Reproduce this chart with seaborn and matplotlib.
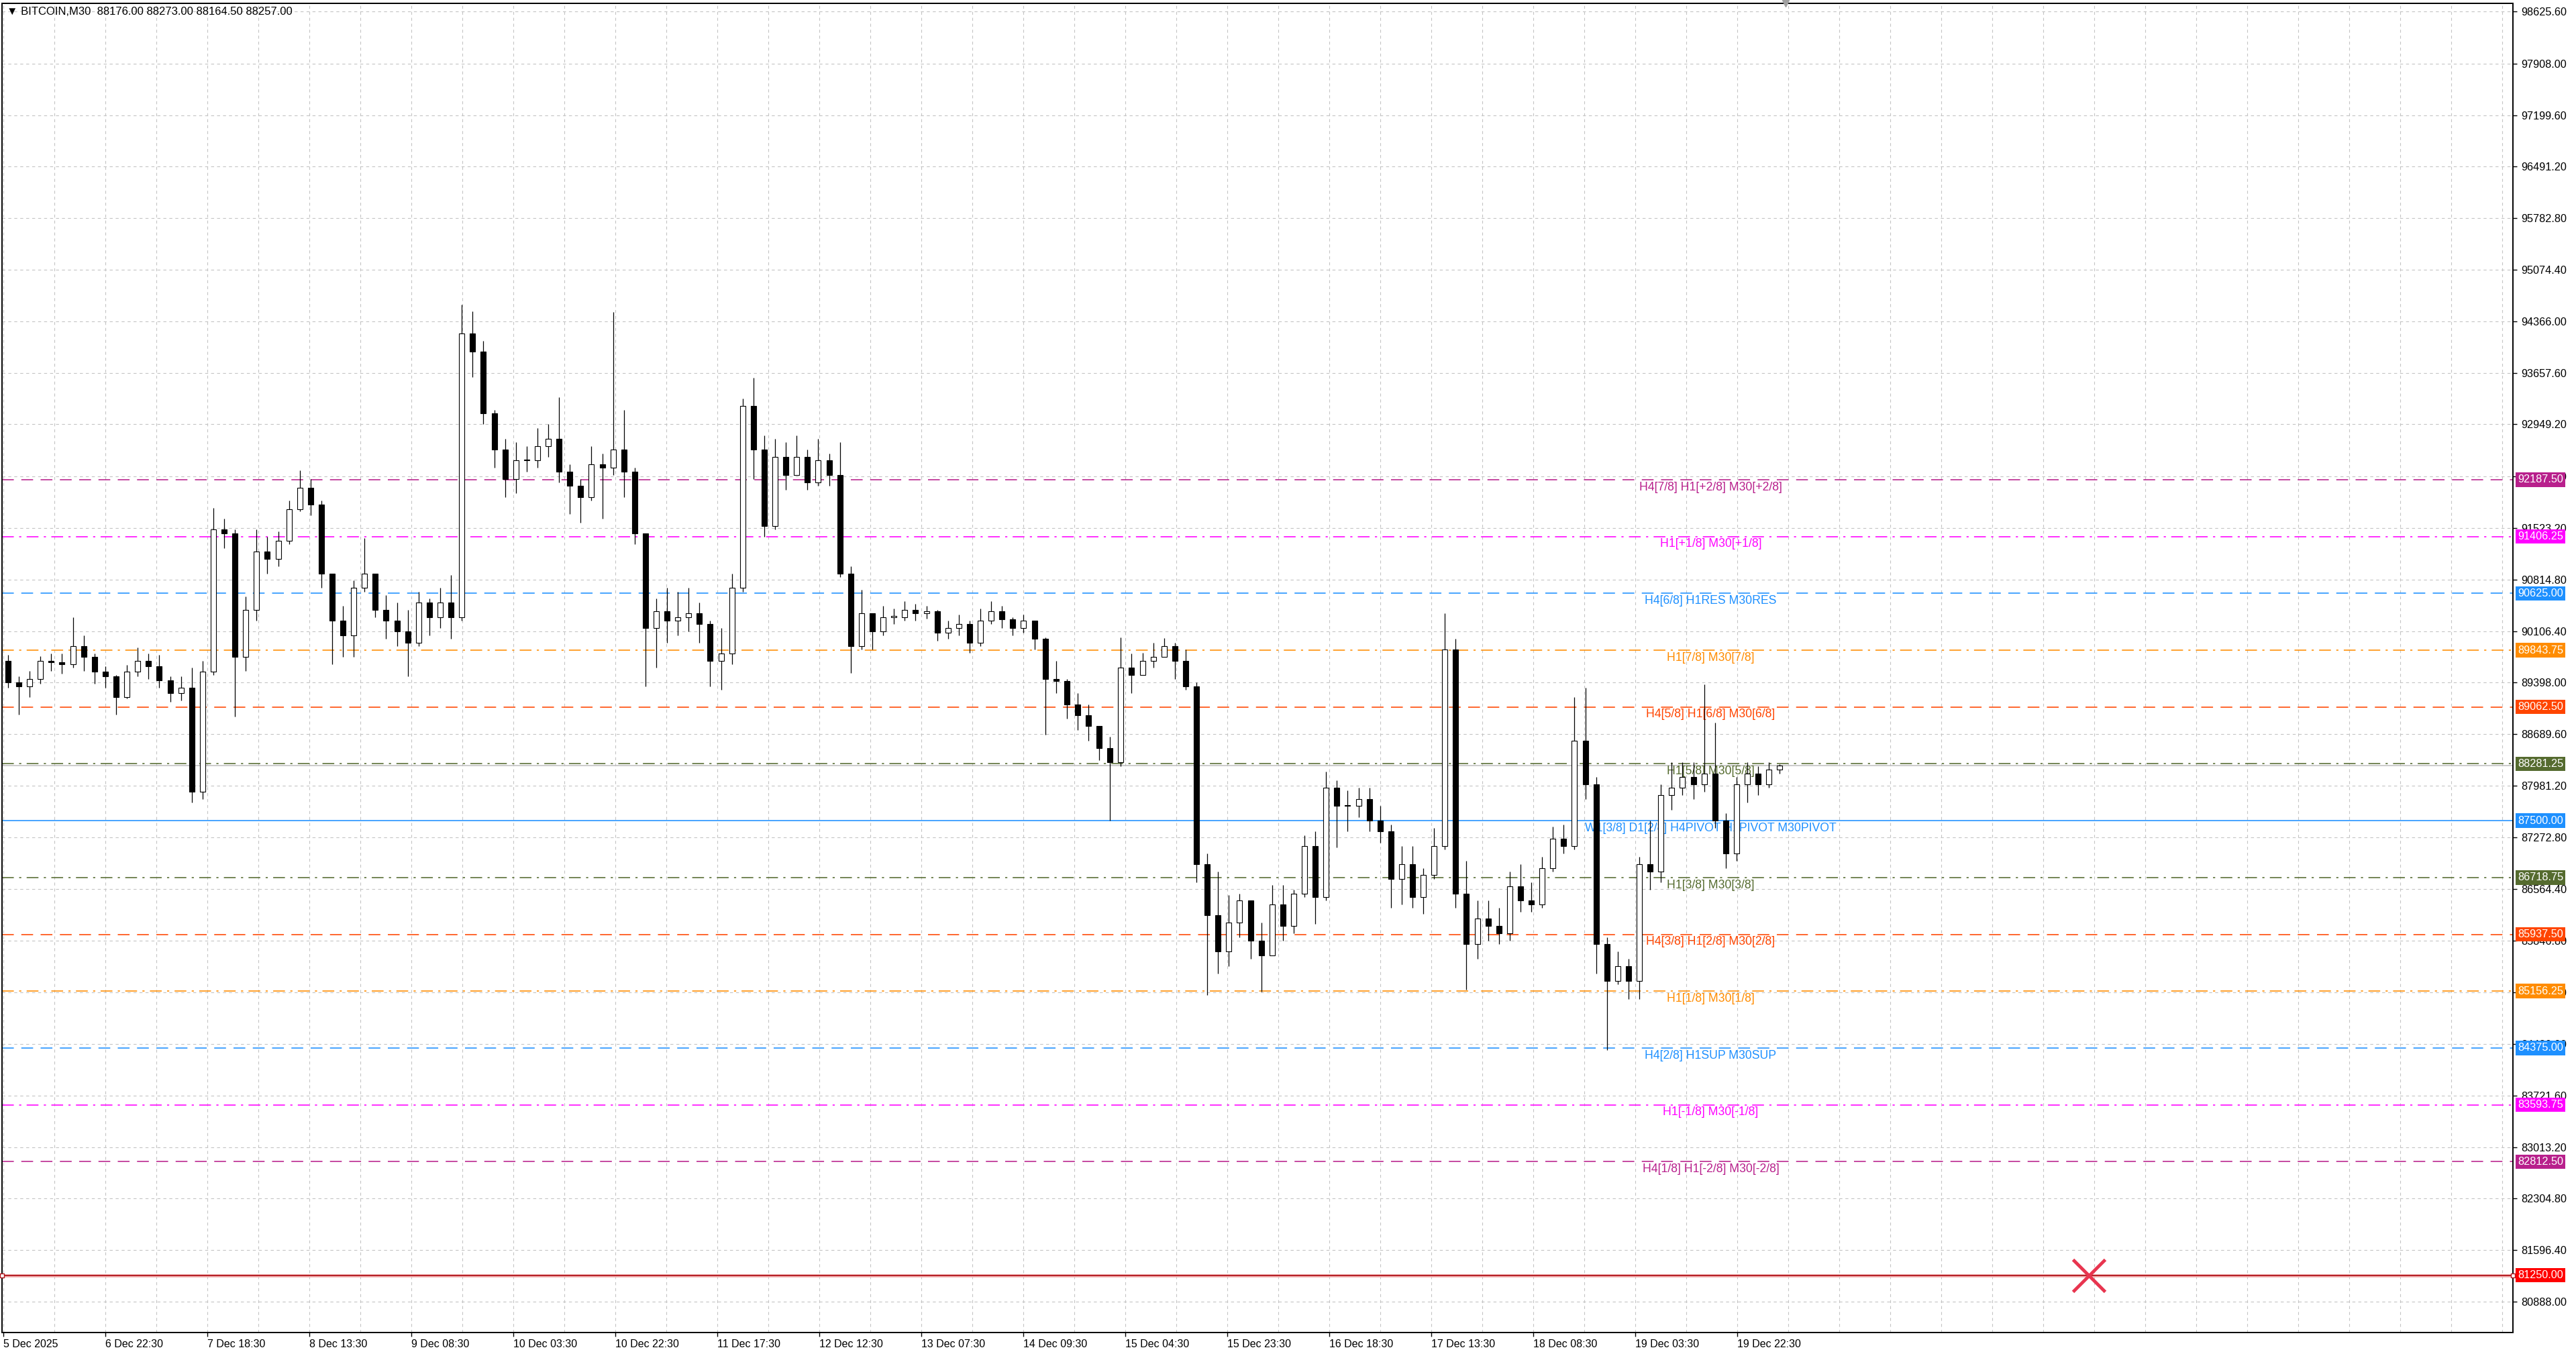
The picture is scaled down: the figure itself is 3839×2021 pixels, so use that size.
import matplotlib
matplotlib.use("Agg")
import matplotlib.pyplot as plt
import matplotlib.transforms as mtransforms
import numpy as np
import pandas as pd
import seaborn as sns

# ==============================================
# Data (candles grouped by 2 hours)
# ==============================================
first_open = 89700.0

closes = [89400, 89350, 89450, 89700, 89680, 89650, 89900, 89750, 89550, 89480,
          89200, 89550, 89700, 89620, 89430, 89250, 89330, 87900, 89550, 91500,
          91450, 89750, 90400, 91200, 91100, 91350, 91780, 92080, 91850, 90900,
          90250, 90050, 90700, 90900, 90400, 90250, 90100, 89950, 90500, 90300,
          90500, 90300, 94200, 93950, 93100, 92600, 92200, 92450, 92450, 92650,
          92750, 92300, 92100, 91950, 92400, 92350, 92600, 92300, 91450, 90150,
          90380, 90250, 90300, 90350, 90200, 89700, 89800, 90700, 93200, 92600,
          91550, 92500, 92250, 92500, 92150, 92450, 92250, 90900, 89900, 90350,
          90100, 90300, 90300, 90400, 90350, 90380, 90080, 90150, 90200, 89950,
          90250, 90380, 90270, 90150, 90250, 90000, 89450, 89420, 89100, 88950,
          88800, 88500, 88300, 89600, 89500, 89700, 89750, 89900, 89700, 89350,
          86900, 86200, 85700, 86100, 86400, 85850, 85650, 86350, 86050, 86500,
          87150, 86450, 87950, 87700, 87700, 87800, 87500, 87350, 86700, 86900,
          86450, 86750, 87150, 89850, 86500, 85800, 86150, 86050, 85950, 86600,
          86400, 86350, 86850, 87250, 87150, 88600, 88000, 85800, 85300, 85500,
          85300, 86900, 86800, 87850, 87950, 88100, 88000, 88150, 87500, 87050,
          88000, 88150, 88000, 88200, 88257]

highs = [89780, 89480, 89560, 89760, 89800, 89800, 90300, 90050, 89800, 89620,
         89500, 89640, 89880, 89800, 89780, 89480, 89480, 89600, 89700, 91800,
         91650, 91500, 90580, 91500, 91400, 91480, 91900, 92320, 92200, 91900,
         90900, 90450, 90800, 91380, 90900, 90600, 90500, 90400, 90650, 90550,
         90700, 90880, 94590, 94500, 94100, 93150, 92750, 92700, 92650, 92900,
         92950, 93320, 92400, 92200, 92650, 92550, 94490, 93150, 92350, 91450,
         90550, 90700, 90650, 90700, 90500, 90250, 90150, 90900, 93300, 93590,
         92800, 92750, 92700, 92800, 92600, 92750, 92550, 92700, 91000, 90670,
         90350, 90450, 90420, 90520, 90480, 90450, 90400, 90250, 90330, 90250,
         90420, 90520, 90450, 90300, 90330, 90250, 90020, 89700, 89450, 89250,
         89100, 88800, 88650, 90016, 89800, 89810, 89950, 90010, 89950, 89850,
         89400, 87050, 86800, 86480, 86500, 86400, 86100, 86620, 86620, 86550,
         87300, 87350, 88170, 88050, 87920, 87950, 87950, 87700, 87450, 87150,
         87150, 86850, 87400, 90350, 90000, 86950, 86400, 86400, 86300, 86800,
         86900, 86650, 87000, 87420, 87450, 89200, 89330, 88100, 85900, 85700,
         85600, 87000, 87500, 88000, 88300, 88300, 88300, 89370, 88850, 87600,
         88100, 88300, 88250, 88300, 88280]

lows = [89330, 88960, 89200, 89380, 89560, 89520, 89600, 89560, 89380, 89330,
        88960, 89180, 89480, 89450, 89330, 89130, 89150, 87750, 87800, 89500,
        91250, 88930, 89560, 90250, 90900, 91000, 91300, 91750, 91700, 90700,
        89650, 89750, 89750, 90650, 90300, 90000, 89900, 89480, 89900, 90050,
        90150, 90000, 90250, 93600, 92950, 92350, 91950, 92000, 92300, 92350,
        92500, 92150, 91720, 91600, 91900, 91650, 92250, 91950, 91300, 89350,
        89600, 89950, 90050, 90100, 89950, 89350, 89300, 89650, 90650, 92200,
        91400, 91500, 92050, 92250, 92050, 92100, 92100, 90850, 89530, 89850,
        89850, 90050, 90200, 90250, 90250, 90280, 89970, 90000, 90050, 89810,
        89900, 90200, 90150, 90050, 90080, 89850, 88680, 89250, 88900, 88750,
        88600, 88330, 87500, 88250, 89250, 89500, 89600, 89750, 89450, 89300,
        86650, 85100, 85400, 85500, 85900, 85600, 85150, 85650, 85850, 85950,
        86450, 86080, 86400, 87130, 87350, 87550, 87350, 87200, 86300, 86350,
        86300, 86220, 86700, 87100, 86300, 85180, 85600, 85850, 85800, 85850,
        86250, 86250, 86300, 86800, 87050, 87100, 87800, 85400, 84350, 85250,
        85050, 85050, 86550, 86650, 87650, 87850, 87800, 87900, 87400, 86850,
        86950, 87750, 87850, 87950, 88150]

# Murrey-math style levels drawn by the indicator
level_prices = [92187.50, 91406.25, 90625.00, 89843.75, 89062.50, 88281.25, 87500.00,
                86718.75, 85937.50, 85156.25, 84375.00, 83593.75, 82812.50]
level_names = ["H4[7/8] H1[+2/8] M30[+2/8]", "H1[+1/8] M30[+1/8]", "H4[6/8] H1RES M30RES",
               "H1[7/8] M30[7/8]", "H4[5/8] H1[6/8] M30[6/8]", "H1[5/8] M30[5/8]",
               "W1[3/8] D1[2/8] H4PIVOT H1PIVOT M30PIVOT", "H1[3/8] M30[3/8]",
               "H4[3/8] H1[2/8] M30[2/8]", "H1[1/8] M30[1/8]", "H4[2/8] H1SUP M30SUP",
               "H1[-1/8] M30[-1/8]", "H4[1/8] H1[-2/8] M30[-2/8]"]
level_colors = ["#B8208C", "#FF00FF", "#1E90FF", "#FF8C00", "#FF4500", "#556B2F", "#1E90FF",
                "#556B2F", "#FF4500", "#FF8C00", "#1E90FF", "#FF00FF", "#B8208C"]
level_kinds = ["dash", "dashdot", "dash", "dashdot", "dash", "dashdot", "solid",
               "dashdot", "dash", "dashdot", "dash", "dashdot", "dash"]

stop_price = 81250.00
bid_price = 88257.00
header_ohlc = [88176.00, 88273.00, 88164.50, 88257.00]

price_ticks = [98625.60, 97908.00, 97199.60, 96491.20, 95782.80, 95074.40, 94366.00,
               93657.60, 92949.20, 92231.60, 91523.20, 90814.80, 90106.40, 89398.00,
               88689.60, 87981.20, 87272.80, 86564.40, 85846.80, 85138.40, 84430.00,
               83721.60, 83013.20, 82304.80, 81596.40, 80888.00]

date_labels = ["5 Dec 2025", "6 Dec 22:30", "7 Dec 18:30", "8 Dec 13:30", "9 Dec 08:30",
               "10 Dec 03:30", "10 Dec 22:30", "11 Dec 17:30", "12 Dec 12:30", "13 Dec 07:30",
               "14 Dec 09:30", "15 Dec 04:30", "15 Dec 23:30", "16 Dec 18:30", "17 Dec 13:30",
               "18 Dec 08:30", "19 Dec 03:30", "19 Dec 22:30"]

# ==============================================
# Build candle table (x axis is in M30 bars)
# ==============================================
df = pd.DataFrame({"close": closes, "high": highs, "low": lows}, dtype=float)
df["open"] = [first_open] + closes[:-1]
df["high"] = df[["high", "open", "close"]].max(axis=1)
df["low"] = df[["low", "open", "close"]].min(axis=1)
bars_per_candle = 4.025
df["x"] = 1.65 + bars_per_candle * np.arange(len(df))
df["up"] = df["close"] >= df["open"]
df["bottom"] = df[["open", "close"]].min(axis=1)
df["height"] = (df["close"] - df["open"]).abs().clip(lower=12)

# ==============================================
# Figure
# ==============================================
sns.set_theme(style="white")
plt.rcParams["font.family"] = ["Liberation Sans", "DejaVu Sans"]

W, H = 3839, 2021
fig = plt.figure(figsize=(W / 100, H / 100), dpi=100)
fig.patch.set_facecolor("white")
ax_left, ax_right, ax_top, ax_bottom = 3, 3745, 5, 1986
ax = fig.add_axes([ax_left / W, (H - ax_bottom) / H, (ax_right - ax_left) / W, (ax_bottom - ax_top) / H])
ax.set_facecolor("white")

ax.set_xlim(-0.6, 934.9)
ax.set_ylim(80463, 98736)

# grid
grid_style = dict(color="#c4c4c4", linestyle=(0, (4, 4)), linewidth=0.8)
ax.set_xticks(np.arange(len(date_labels)) * 38)
ax.set_xticklabels(date_labels, ha="left")
ax.set_xticks(np.arange(1, 50) * 19, minor=True)
ax.grid(True, which="both", axis="x", **grid_style)
ax.set_yticks(price_ticks)
ax.set_yticklabels([f"{t:.2f}" for t in price_ticks])
ax.grid(True, which="major", axis="y", **grid_style)
ax.set_axisbelow(True)

ax.yaxis.tick_right()
ax.tick_params(axis="y", which="major", right=True, left=False, length=4, width=1,
               pad=5, labelsize=11.7, color="black", labelcolor="black")
ax.tick_params(axis="x", which="major", bottom=True, length=4, width=1, pad=3,
               labelsize=11.5, color="black", labelcolor="black")
ax.tick_params(axis="x", which="minor", length=0)
for sp in ax.spines.values():
    sp.set_color("black")
    sp.set_linewidth(1.4)

# level lines
styles = {"dash": (0, (11, 7)), "dashdot": (0, (11, 5, 2, 5)), "solid": "-"}
label_x = 636
for p, name, col, kind in zip(level_prices, level_names, level_colors, level_kinds):
    ax.axhline(p, color=col, linestyle=styles[kind], linewidth=1.15, zorder=2)
    ax.annotate(name, xy=(label_x, p), xytext=(0, -2), textcoords="offset points",
                ha="center", va="top", color=col, fontsize=12.7, zorder=2.6)

# bid line and stop line
ax.axhline(bid_price, color="#bdbdbd", linewidth=1.1, zorder=2)
ax.axhline(stop_price, color="#f3b3b3", linewidth=3.5, zorder=2)
ax.axhline(stop_price, color="#b0131a", linewidth=1.3, zorder=2.1)
ax.plot([-0.6, 934.9], [stop_price, stop_price], linestyle="none", marker="s", ms=4,
        mfc="white", mec="#b0131a", mew=1, clip_on=False, zorder=3)
ax.plot([777], [stop_price], marker="x", ms=34, mew=3.5, color="#e8354f", zorder=5)

# candles
ax.vlines(df["x"], df["low"], df["high"], color="black", linewidth=0.9, zorder=3)
ax.bar(df["x"], df["height"], bottom=df["bottom"], width=2.0,
       color=np.where(df["up"], "white", "black"), edgecolor="black", linewidth=0.8, zorder=4)

# chart shift marker
ax.plot([664], [98736], marker="v", ms=7, color="#a0a0a0", clip_on=False, zorder=5)

# price badges on the right scale
trans = mtransforms.blended_transform_factory(ax.transAxes, ax.transData)
badge_x = (3752 - ax_left) / (ax_right - ax_left)
for p, col in zip(level_prices + [stop_price], level_colors + ["#ff0000"]):
    ax.text(badge_x, p, f"{p:.2f}", transform=trans, ha="left", va="center", color="white",
            fontsize=11.7, clip_on=False, zorder=6,
            bbox=dict(boxstyle="square,pad=0.2", fc=col, ec="none"))

# header
header = "\u25bc BITCOIN,M30  " + " ".join(f"{v:.2f}" for v in header_ohlc)
fig.text(10 / W, 1 - 17 / H, header, ha="left", va="center", fontsize=12, color="black",
         family=["Liberation Sans", "DejaVu Sans"])

fig.savefig("out.png", dpi=100, facecolor="white")
